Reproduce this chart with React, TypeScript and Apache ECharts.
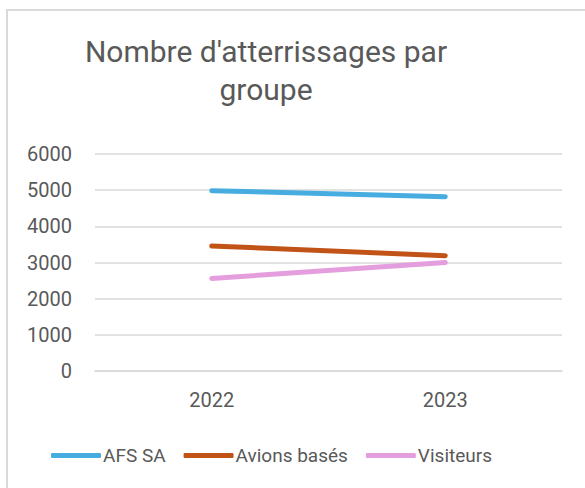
import React, { useEffect, useRef } from "react";
import * as echarts from "echarts";

const categories = ["2022", "2023"];
const afsSA = [4985, 4820];
const avionsBases = [3455, 3190];
const visiteurs = [2560, 3000];
const seriesNames = ["AFS SA", "Avions basés", "Visiteurs"];
const colors = ["#47ADE0", "#C15317", "#E59EDD"];
const titleText = "Nombre d'atterrissages par\ngroupe";

export default function App() {
  const ref = useRef<HTMLDivElement>(null);
  useEffect(() => {
    if (!ref.current) return;
    const chart = echarts.init(ref.current, undefined, { renderer: "svg" });
    const font = "Roboto, 'Noto Sans', sans-serif";
    const mk = (name: string, data: number[], color: string) => ({
      name,
      type: "line",
      data,
      showSymbol: false,
      symbol: "none",
      lineStyle: { color, width: 5, cap: "round" },
      itemStyle: { color },
    });
    chart.setOption({
      animation: false,
      backgroundColor: "#ffffff",
      title: {
        text: titleText,
        left: 261,
        top: 27,
        textAlign: "center",
        textStyle: {
          color: "#595959",
          fontFamily: font,
          fontSize: 30,
          fontWeight: "normal",
          lineHeight: 38,
          align: "center",
        },
      },
      graphic: [
        {
          type: "polyline",
          shape: { points: [[7, 500], [7, 10], [600, 10]] },
          style: { stroke: "#d9d9d9", lineWidth: 2, fill: "none" },
        },
      ],
      legend: {
        left: 51,
        top: 446,
        padding: 0,
        icon: "roundRect",
        itemWidth: 50,
        itemHeight: 5,
        itemGap: 18,
        data: seriesNames,
        textStyle: {
          color: "#595959",
          fontFamily: font,
          fontSize: 19,
          padding: [0, 0, 0, -3],
        },
      },
      grid: { left: 95, right: 23, top: 154, bottom: 117, containLabel: false },
      xAxis: {
        type: "category",
        data: categories,
        axisLine: { show: true, lineStyle: { color: "#d9d9d9", width: 1.5 } },
        axisTick: { show: false },
        axisLabel: {
          color: "#595959",
          fontFamily: font,
          fontSize: 20,
          margin: 19,
        },
      },
      yAxis: {
        type: "value",
        min: 0,
        max: 6000,
        interval: 1000,
        axisLine: { show: false },
        axisTick: { show: false },
        splitLine: { lineStyle: { color: "#d9d9d9", width: 1.5 } },
        axisLabel: {
          color: "#595959",
          fontFamily: font,
          fontSize: 20,
          margin: 23,
          formatter: (v: number) => String(v),
        },
      },
      series: [
        mk(seriesNames[0], afsSA, colors[0]),
        mk(seriesNames[1], avionsBases, colors[1]),
        mk(seriesNames[2], visiteurs, colors[2]),
      ],
    });
    return () => chart.dispose();
  }, []);
  return (
    <div
      ref={ref}
      style={{ position: "fixed", left: 0, top: 0, width: 585, height: 488 }}
    />
  );
}
